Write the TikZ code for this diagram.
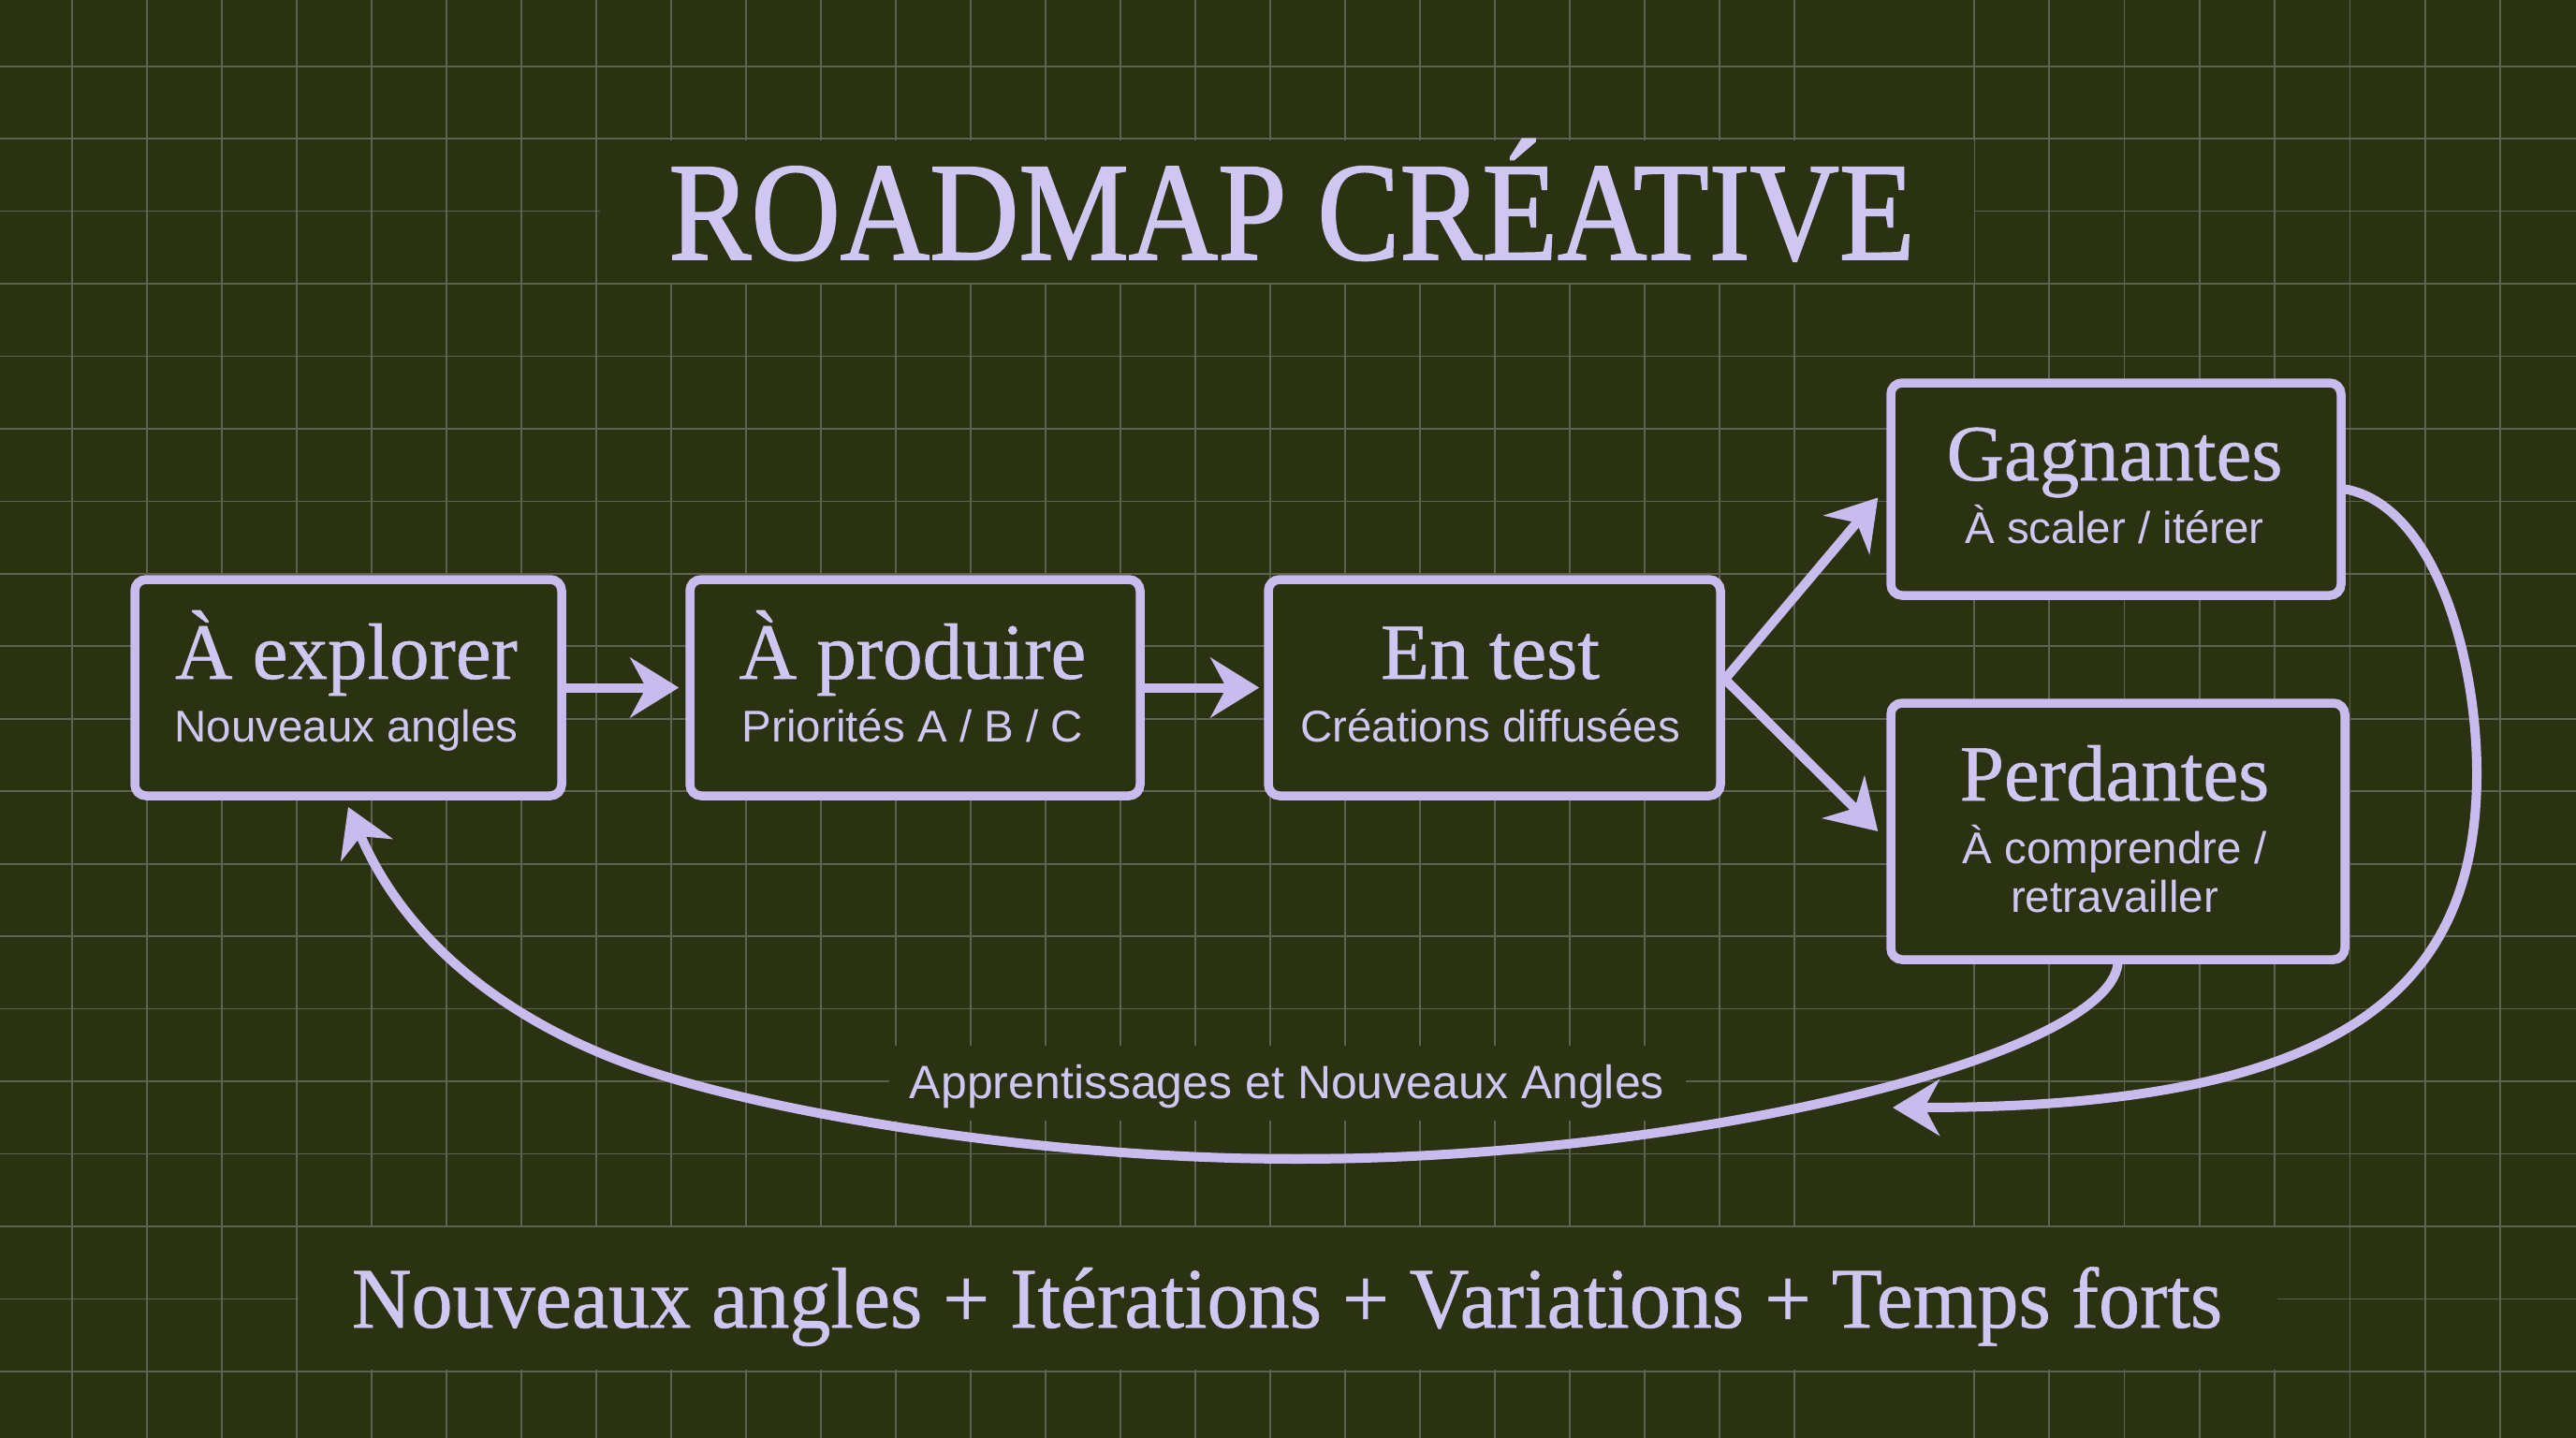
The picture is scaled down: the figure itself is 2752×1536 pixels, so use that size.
\documentclass[tikz,border=0pt]{standalone}
\usepackage{fontspec}
\usetikzlibrary{arrows.meta}
\setmainfont{Liberation Serif}
\newfontfamily\titleserif[FakeStretch=0.88,FakeBold=1.2]{Liberation Serif}
\newfontfamily\botserif[FakeStretch=0.958,FakeBold=0.7]{Liberation Serif}
\newfontfamily\boxserif[FakeBold=0.7]{Liberation Serif}
\newfontfamily\subsans{Liberation Sans}
\definecolor{bg}{RGB}{42,50,17}
\definecolor{gridc}{RGB}{94,98,82}
\definecolor{lav}{RGB}{200,188,238}
\definecolor{txt}{RGB}{208,198,242}
\tikzset{
  gridline/.style={draw=gridc, line width=1.7pt},
  box/.style={draw=lav, line width=9.5pt, fill=bg, rounded corners=12pt, inner sep=0pt},
  btitle/.style={anchor=base, inner sep=0pt, text=txt, font=\boxserif\fontsize{85}{85}\selectfont},
  bsub/.style={anchor=base, inner sep=0pt, text=txt, font=\subsans\fontsize{47.5}{47.5}\selectfont},
  arr/.style={draw=lav, line width=10pt, -{Stealth[length=52pt,width=64pt,inset=17pt]}},
  carr/.style={draw=lav, line width=10pt, line cap=round, -{Stealth[length=50pt,width=60pt,inset=16pt]}}
}
\begin{document}
\begin{tikzpicture}[x=1pt,y=-1pt]
\fill[bg] (0,0) rectangle (2752,1536);
\useasboundingbox (0,0) rectangle (2752,1536);
% grid
\foreach \k in {1,...,24} \draw[gridline] ({80*\k-3},0) -- ({80*\k-3},1536);
\foreach \k in {0,...,7} \draw[gridline] ({2109+80.3*\k},0) -- ({2109+80.3*\k},1536);
\foreach \k in {0,...,18} \draw[gridline] (0,{70.7+77.45*\k}) -- (2752,{70.7+77.45*\k});
% panels hiding the grid
\fill[bg] (641,150) rectangle (2109,301.5);
\fill[bg] (319,1311) rectangle (2433,1463);
\fill[bg] (950,1117) rectangle (1801,1197);
% title
\node[anchor=base, inner sep=0pt, text=txt, font=\titleserif\fontsize{150}{150}\selectfont] (title) at (1380,277) {ROADMAP CRÉATIVE};
% boxes
\node[box, minimum width=456pt, minimum height=231pt] (exp) at (372,734.5) {};
\node[box, minimum width=481pt, minimum height=231pt] (pro) at (977.5,734.5) {};
\node[box, minimum width=483pt, minimum height=231pt] (ent) at (1596.5,734.5) {};
\node[box, minimum width=481pt, minimum height=227pt] (gag) at (2260.5,522.5) {};
\node[box, minimum width=485pt, minimum height=274pt] (perd) at (2262.5,888) {};
% box texts
\node[btitle] (expt) at (370,725) {À explorer};
\node[bsub] (exps) at (370,792) {Nouveaux angles};
\node[btitle] (prot) at (975,725) {À produire};
\node[bsub] (pros) at (975,792) {Priorités A / B / C};
\node[btitle] (entt) at (1592,725) {En test};
\node[bsub] (ents) at (1592,792) {Créations diffusées};
\node[btitle] (gagt) at (2259,513) {Gagnantes};
\node[bsub] (gags) at (2259,580) {À scaler / itérer};
\node[btitle] (perdt) at (2259,855) {Perdantes};
\node[bsub] (perds) at (2259,922) {À comprendre /};
\node[bsub] (perds2) at (2259,974) {retravailler};
% straight arrows
\draw[arr] (exp.east) -- ([xshift=-7pt]pro.west);
\draw[arr] (pro.east) -- ([xshift=-5pt]ent.west);
\draw[arr] ([yshift=9pt]ent.east) -- ([xshift=-9pt,yshift=-9pt]gag.west);
\draw[arr] ([yshift=9pt]ent.east) -- ([xshift=-9pt]perd.west);
% return curves
\coordinate (retG) at (2022,1183);
\coordinate (retE) at (372,862);
\draw[carr] (gag.east) .. controls (2600,540) and (2646,700) .. (2646,826)
  .. controls (2646,1060) and (2500,1183) .. (retG);
\draw[carr] (perd.south) .. controls (2250,1130) and (1800,1238) .. (1386,1238)
  .. controls (1100,1238) and (800,1185) .. (667,1135)
  .. controls (560,1095) and (440,1020) .. (retE);
% labels
\node[anchor=base, inner sep=0pt, text=txt, font=\subsans\fontsize{50}{50}\selectfont] (learn) at (1375,1173) {Apprentissages et Nouveaux Angles};
\node[anchor=base, inner sep=0pt, text=txt, font=\botserif\fontsize{92}{92}\selectfont] (foot) at (1375,1418) {Nouveaux angles + Itérations + Variations + Temps forts};
\end{tikzpicture}
\end{document}
